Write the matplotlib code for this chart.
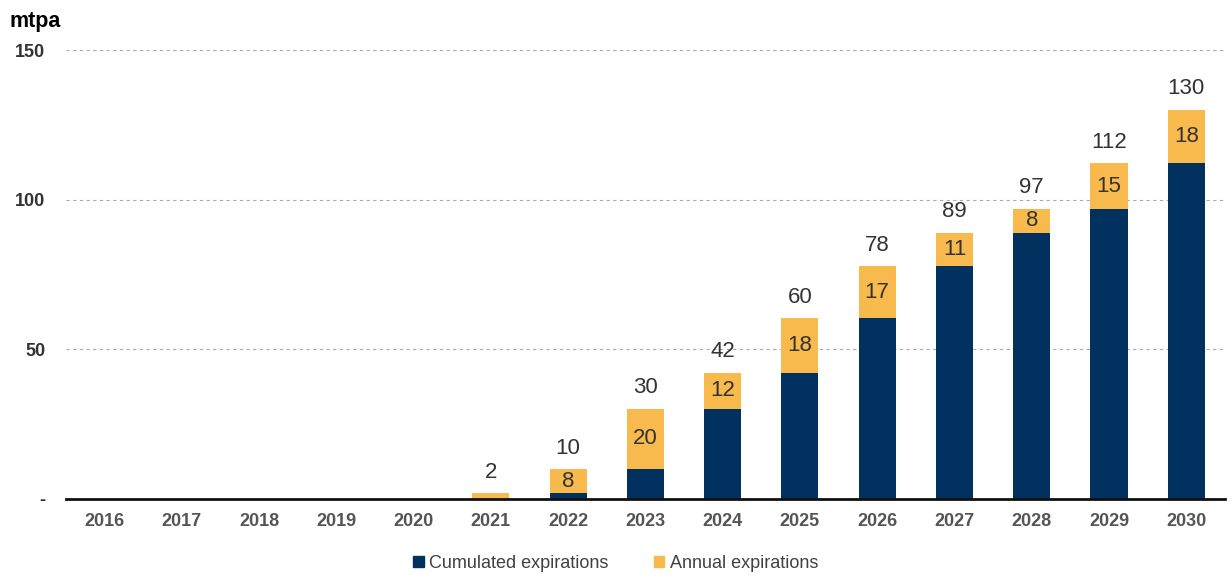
import numpy as np
import matplotlib.pyplot as plt
from matplotlib.ticker import FuncFormatter
from matplotlib.patches import Patch

plt.rcParams["font.family"] = ["Liberation Sans", "DejaVu Sans"]

# LNG contract expirations, mtpa
years = ["2016", "2017", "2018", "2019", "2020", "2021", "2022", "2023",
         "2024", "2025", "2026", "2027", "2028", "2029", "2030"]
cumulated = [0, 0, 0, 0, 0, 0, 2.0, 10.0, 30.2, 42.2, 60.4, 77.7, 88.9, 96.9, 112.1]
annual = [0, 0, 0, 0, 0, 2.0, 8.0, 20.2, 12.0, 18.2, 17.3, 11.2, 8.0, 15.2, 18.0]

NAVY = "#00315F"
GOLD = "#F8BA4C"
TEXT = "#333333"

fig = plt.figure(figsize=(12.31, 5.77), dpi=100)
ax = fig.add_axes([0.0536, 0.1352, 0.9414, 0.7781])

x = np.arange(len(years))
cum = np.array(cumulated)
ann = np.array(annual)
total = cum + ann
width = 0.48

ax.bar(x, cum, width, color=NAVY, zorder=3)
ax.bar(x, ann, width, bottom=cum, color=GOLD, zorder=3)

for i in range(len(years)):
    if total[i] <= 0:
        continue
    ax.text(x[i], total[i] + 3.5, f"{total[i]:.0f}", ha="center", va="bottom",
            fontsize=16, color=TEXT)
    if ann[i] >= 5:
        ax.text(x[i], cum[i] + ann[i] / 2, f"{ann[i]:.0f}", ha="center",
                va="center", fontsize=16, color=TEXT, zorder=4)

ax.set_xlim(-0.5, len(years) - 0.5)
ax.set_ylim(0, 150)
ax.set_yticks([0, 50, 100, 150])
ax.yaxis.set_major_formatter(FuncFormatter(lambda v, p: "-" if v == 0 else f"{v:.0f}"))
ax.set_xticks(x)
ax.set_xticklabels(years)

for t in ax.get_xticklabels() + ax.get_yticklabels():
    t.set_fontweight("bold")
    t.set_color("#555555")
    t.set_fontsize(13)
for t in ax.get_yticklabels():
    t.set_color("#333333")

ax.tick_params(axis="both", length=0)
ax.tick_params(axis="x", pad=10)
ax.tick_params(axis="y", pad=15)

ax.yaxis.grid(True, linestyle=(0, (3, 3)), color="#aaaaaa", linewidth=0.8, zorder=0)
for s in ["top", "right", "left"]:
    ax.spines[s].set_visible(False)
ax.spines["bottom"].set_linewidth(2)
ax.spines["bottom"].set_color("#111111")
ax.spines["bottom"].set_zorder(5)

fig.text(0.008, 0.963, "mtpa", fontsize=15.5, fontweight="bold", color="black",
         ha="left", va="center")

handles = [Patch(color=NAVY, label="Cumulated expirations"),
           Patch(color=GOLD, label="Annual expirations")]
fig.legend(handles=handles, loc="center", bbox_to_anchor=(0.5, 0.024), ncol=2,
           frameon=False, fontsize=13, handlelength=0.6, handleheight=0.6,
           handletextpad=0.3, columnspacing=2.5, labelcolor="#404040")

fig.savefig("out.png", dpi=100)
